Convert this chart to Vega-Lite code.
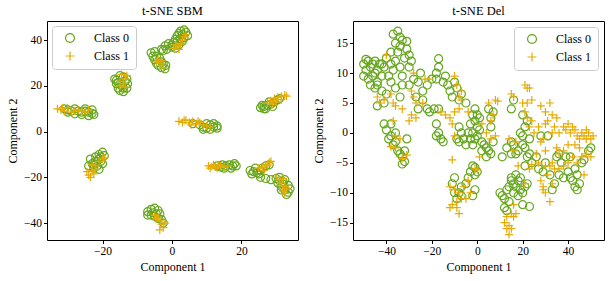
{
  "$schema": "https://vega.github.io/schema/vega-lite/v6.json",
  "background": "white",
  "padding": {"left": 6, "top": 4, "right": 4, "bottom": 5},
  "spacing": 13,
  "config": {
    "font": "Liberation Serif",
    "view": {"stroke": "black", "strokeWidth": 1},
    "style": {"guide-title": {"fontWeight": "normal"}, "group-title": {"fontWeight": "normal"}},
    "axis": {"domain": false, "grid": false, "tickColor": "black", "tickSize": 3.5, "labelFont": "Liberation Serif", "labelFontSize": 11.5, "labelColor": "black", "titleFont": "Liberation Serif", "titleFontSize": 12, "titleFontWeight": "normal", "titleColor": "black", "labelPadding": 2},
    "title": {"font": "Liberation Serif", "fontSize": 12.5, "fontWeight": "normal", "offset": 4},
    "legend": {"labelFont": "Liberation Serif", "labelFontSize": 12, "labelColor": "black", "strokeColor": "#cccccc", "fillColor": "white", "cornerRadius": 3, "padding": 6, "symbolStrokeWidth": 1.2, "symbolSize": 80, "symbolOpacity": 1, "rowPadding": 4, "labelOffset": 18, "symbolOffset": 6}
  },
  "datasets": {
    "sbm": [
      {"c":0,"x":-3,"y":36},{"c":0,"x":-2,"y":37.5},{"c":0,"x":-1,"y":38.5},{"c":0,"x":-2.5,"y":35.5},{"c":0,"x":0,"y":37},{"c":0,"x":0.5,"y":39},{"c":0,"x":1,"y":40.5},{"c":0,"x":1.5,"y":42},{"c":0,"x":2,"y":43},{"c":0,"x":2.5,"y":44},{"c":0,"x":3.5,"y":44.5},{"c":0,"x":4,"y":43.5},{"c":0,"x":4.5,"y":42},{"c":0,"x":3.5,"y":41},{"c":0,"x":3,"y":39.5},{"c":0,"x":2,"y":38},{"c":0,"x":1,"y":36.5},{"c":0,"x":2.5,"y":40.5},{"c":0,"x":-1.5,"y":36},{"c":0,"x":0,"y":38},{"c":0,"x":1.5,"y":39.5},{"c":0,"x":3,"y":42.5},
      {"c":1,"x":0.5,"y":36.5},{"c":1,"x":1.5,"y":37.5},{"c":1,"x":2.5,"y":38.5},{"c":1,"x":2,"y":36},{"c":1,"x":3,"y":40},{"c":1,"x":3.5,"y":41.5},{"c":1,"x":4,"y":42.5},{"c":1,"x":1,"y":38},
      {"c":0,"x":-6,"y":34.5},{"c":0,"x":-5.5,"y":33},{"c":0,"x":-5,"y":31.5},{"c":0,"x":-4.5,"y":30},{"c":0,"x":-4,"y":29},{"c":0,"x":-3,"y":28},{"c":0,"x":-2,"y":27.5},{"c":0,"x":-2.5,"y":29.5},{"c":0,"x":-3.5,"y":32},{"c":0,"x":-5,"y":35},{"c":0,"x":-1.8,"y":29},{"c":0,"x":-4.5,"y":33},{"c":0,"x":-3,"y":30.5},
      {"c":1,"x":-4,"y":31.5},{"c":1,"x":-3.5,"y":30},{"c":1,"x":-3,"y":29},{"c":1,"x":-2.5,"y":28},{"c":1,"x":-4.5,"y":30.5},{"c":1,"x":-3,"y":31},
      {"c":0,"x":-16.5,"y":23},{"c":0,"x":-16,"y":21},{"c":0,"x":-15.5,"y":19},{"c":0,"x":-15,"y":18},{"c":0,"x":-14,"y":17.5},{"c":0,"x":-13,"y":19},{"c":0,"x":-12.8,"y":21},{"c":0,"x":-13,"y":23},{"c":0,"x":-14,"y":24},{"c":0,"x":-15,"y":24.5},{"c":0,"x":-16,"y":22.5},{"c":0,"x":-14.5,"y":20},{"c":0,"x":-15.5,"y":21.5},{"c":0,"x":-14,"y":19},{"c":0,"x":-13.5,"y":22},
      {"c":1,"x":-15,"y":22},{"c":1,"x":-14,"y":21},{"c":1,"x":-13.5,"y":23},{"c":1,"x":-14.5,"y":25},{"c":1,"x":-13.5,"y":19.5},{"c":1,"x":-15,"y":20},{"c":1,"x":-13,"y":24.5},
      {"c":0,"x":-31,"y":10},{"c":0,"x":-30,"y":9.5},{"c":0,"x":-29,"y":9},{"c":0,"x":-28,"y":10},{"c":0,"x":-27,"y":9},{"c":0,"x":-26,"y":8.5},{"c":0,"x":-25,"y":9},{"c":0,"x":-24,"y":8.5},{"c":0,"x":-23,"y":8},{"c":0,"x":-22.5,"y":7.5},{"c":0,"x":-24,"y":7},{"c":0,"x":-26,"y":7.5},{"c":0,"x":-28,"y":7.8},{"c":0,"x":-30,"y":8.5},{"c":0,"x":-23,"y":9.5},{"c":0,"x":-25,"y":10},
      {"c":1,"x":-33,"y":10},{"c":1,"x":-32,"y":9.5},{"c":1,"x":-31,"y":9},{"c":1,"x":-30,"y":10.5},{"c":1,"x":-29,"y":8.5},{"c":1,"x":-28,"y":9},{"c":1,"x":-27,"y":9.5},{"c":1,"x":-26,"y":9},{"c":1,"x":-25,"y":8.5},{"c":1,"x":-24,"y":9.5},{"c":1,"x":-31.5,"y":10.5},
      {"c":0,"x":-20,"y":-9},{"c":0,"x":-19.5,"y":-10.5},{"c":0,"x":-20.5,"y":-11},{"c":0,"x":-21,"y":-12},{"c":0,"x":-22,"y":-13},{"c":0,"x":-23,"y":-14},{"c":0,"x":-23.5,"y":-12},{"c":0,"x":-22,"y":-11},{"c":0,"x":-21,"y":-10},{"c":0,"x":-24,"y":-15},{"c":0,"x":-22.5,"y":-16},{"c":0,"x":-21.5,"y":-15},{"c":0,"x":-20,"y":-14},{"c":0,"x":-20.5,"y":-13},{"c":0,"x":-22.5,"y":-14.5},{"c":0,"x":-21,"y":-16.5},
      {"c":1,"x":-24,"y":-19},{"c":1,"x":-23.5,"y":-20},{"c":1,"x":-23,"y":-17},{"c":1,"x":-22.5,"y":-18.5},{"c":1,"x":-22,"y":-15},{"c":1,"x":-21,"y":-13},{"c":1,"x":-20,"y":-12},{"c":1,"x":-19.5,"y":-11.5},{"c":1,"x":-24.5,"y":-17.5},{"c":1,"x":-23,"y":-14.5},{"c":1,"x":-22,"y":-16.5},
      {"c":0,"x":-7,"y":-35},{"c":0,"x":-6,"y":-34},{"c":0,"x":-5,"y":-33.5},{"c":0,"x":-4,"y":-34.5},{"c":0,"x":-3.5,"y":-36},{"c":0,"x":-4,"y":-38},{"c":0,"x":-5,"y":-37},{"c":0,"x":-6,"y":-36.5},{"c":0,"x":-3,"y":-38.5},{"c":0,"x":-5.5,"y":-35.5},{"c":0,"x":-7,"y":-36.5},{"c":0,"x":-4.5,"y":-36},{"c":0,"x":-2.5,"y":-40},
      {"c":1,"x":-5,"y":-36.5},{"c":1,"x":-4,"y":-37.5},{"c":1,"x":-3.5,"y":-39},{"c":1,"x":-3,"y":-40.5},{"c":1,"x":-2.5,"y":-42},{"c":1,"x":-3.5,"y":-43},{"c":1,"x":-4.5,"y":-38},{"c":1,"x":-2,"y":-40},
      {"c":0,"x":6,"y":3.5},{"c":0,"x":8,"y":3},{"c":0,"x":9,"y":2},{"c":0,"x":10,"y":1.5},{"c":0,"x":11,"y":1},{"c":0,"x":12,"y":2},{"c":0,"x":13,"y":2.5},{"c":0,"x":12,"y":3.5},{"c":0,"x":10,"y":3.5},{"c":0,"x":11,"y":3},{"c":0,"x":13,"y":1.5},{"c":0,"x":9,"y":1},
      {"c":1,"x":2,"y":4.5},{"c":1,"x":3,"y":4},{"c":1,"x":4,"y":5},{"c":1,"x":5,"y":4},{"c":1,"x":6,"y":4.5},{"c":1,"x":7,"y":3.5},{"c":1,"x":8,"y":4},{"c":1,"x":9,"y":3},{"c":1,"x":10,"y":2.5},{"c":1,"x":3.5,"y":5},{"c":1,"x":5.5,"y":3},{"c":1,"x":7.5,"y":4.5},{"c":1,"x":11,"y":2},
      {"c":0,"x":13,"y":-15},{"c":0,"x":14.5,"y":-14.5},{"c":0,"x":15.5,"y":-15},{"c":0,"x":16.5,"y":-14.5},{"c":0,"x":17.5,"y":-15},{"c":0,"x":18.5,"y":-15},{"c":0,"x":17,"y":-16},{"c":0,"x":15,"y":-16},{"c":0,"x":14,"y":-15.5},{"c":0,"x":18,"y":-14},
      {"c":1,"x":10.5,"y":-15},{"c":1,"x":11,"y":-16},{"c":1,"x":12,"y":-14.5},{"c":1,"x":12.5,"y":-15.5},{"c":1,"x":13,"y":-16},{"c":1,"x":13.5,"y":-14.5},{"c":1,"x":14,"y":-15},{"c":1,"x":15,"y":-15.5},{"c":1,"x":16,"y":-15},{"c":1,"x":11.5,"y":-15.2},
      {"c":0,"x":22.5,"y":-17},{"c":0,"x":23.5,"y":-17.5},{"c":0,"x":24.5,"y":-18},{"c":0,"x":25.5,"y":-17},{"c":0,"x":24,"y":-16},{"c":0,"x":26,"y":-16},{"c":0,"x":27,"y":-15},{"c":0,"x":28,"y":-14.5},{"c":0,"x":23,"y":-18.5},{"c":0,"x":25,"y":-18.5},
      {"c":1,"x":25,"y":-16},{"c":1,"x":26,"y":-15.5},{"c":1,"x":27,"y":-14.5},{"c":1,"x":28,"y":-13.5},{"c":1,"x":28.5,"y":-13},{"c":1,"x":26.5,"y":-17},{"c":1,"x":27.5,"y":-15},
      {"c":0,"x":25.5,"y":-20},{"c":0,"x":27,"y":-20.5},{"c":0,"x":28.5,"y":-21},{"c":0,"x":30,"y":-20.5},{"c":0,"x":31,"y":-21.5},{"c":0,"x":32,"y":-22},{"c":0,"x":31.5,"y":-24},{"c":0,"x":32.5,"y":-25.5},{"c":0,"x":33.5,"y":-26.5},{"c":0,"x":33,"y":-27.5},{"c":0,"x":32,"y":-23},{"c":0,"x":33.5,"y":-23.5},{"c":0,"x":30.5,"y":-22.5},{"c":0,"x":31,"y":-20},{"c":0,"x":32.5,"y":-21},{"c":0,"x":34,"y":-25},{"c":0,"x":31.5,"y":-25.5},
      {"c":1,"x":30,"y":-20},{"c":1,"x":31,"y":-21},{"c":1,"x":32,"y":-20.5},{"c":1,"x":31.5,"y":-22.5},{"c":1,"x":32.5,"y":-24},{"c":1,"x":33,"y":-25},{"c":1,"x":32,"y":-26},{"c":1,"x":32.5,"y":-27},{"c":1,"x":31,"y":-23.5},
      {"c":0,"x":25.5,"y":10.5},{"c":0,"x":26.5,"y":11},{"c":0,"x":27.5,"y":11.5},{"c":0,"x":28.5,"y":12},{"c":0,"x":29.5,"y":13},{"c":0,"x":30.5,"y":14},{"c":0,"x":27,"y":10},{"c":0,"x":29,"y":11},{"c":0,"x":26,"y":11.5},{"c":0,"x":28,"y":13},{"c":0,"x":31,"y":14.5},{"c":0,"x":26.5,"y":10},
      {"c":1,"x":27.5,"y":12.5},{"c":1,"x":28.5,"y":13.5},{"c":1,"x":29.5,"y":14.5},{"c":1,"x":30.5,"y":15},{"c":1,"x":31.5,"y":15.5},{"c":1,"x":32.5,"y":16},{"c":1,"x":33,"y":15.5},{"c":1,"x":30,"y":13},{"c":1,"x":31.5,"y":14},{"c":1,"x":29,"y":12}
    ],
    "del": [
      {"c":0,"x":-37,"y":16.5},{"c":0,"x":-35,"y":17},{"c":0,"x":-34,"y":16},{"c":0,"x":-33,"y":15.5},{"c":0,"x":-31,"y":15.3},{"c":0,"x":-36,"y":15},{"c":0,"x":-34,"y":14.5},
      {"c":0,"x":-50,"y":11.5},{"c":0,"x":-49,"y":10.5},{"c":0,"x":-48,"y":12},{"c":0,"x":-47,"y":11},{"c":0,"x":-46,"y":9.5},{"c":0,"x":-45,"y":12},{"c":0,"x":-44,"y":10.5},{"c":0,"x":-43,"y":11.5},{"c":0,"x":-50,"y":9.5},{"c":0,"x":-48,"y":9},{"c":0,"x":-46,"y":11.5},{"c":0,"x":-44,"y":8.5},{"c":0,"x":-42,"y":9.5},{"c":0,"x":-42,"y":11.5},{"c":0,"x":-47,"y":8},{"c":0,"x":-49,"y":12.3},{"c":0,"x":-45,"y":10},
      {"c":0,"x":-40,"y":12.5},{"c":0,"x":-38,"y":13.5},{"c":0,"x":-36,"y":12},{"c":0,"x":-34,"y":11},{"c":0,"x":-32,"y":12.5},{"c":0,"x":-30,"y":13},{"c":0,"x":-30,"y":11},{"c":0,"x":-33,"y":9.5},{"c":0,"x":-37,"y":10.5},{"c":0,"x":-39,"y":9.5},{"c":0,"x":-35,"y":13.5},{"c":0,"x":-31,"y":14},{"c":0,"x":-29,"y":12},{"c":0,"x":-38,"y":11.5},{"c":0,"x":-41,"y":11},
      {"c":0,"x":-44,"y":8},{"c":0,"x":-42,"y":7},{"c":0,"x":-40,"y":6.5},{"c":0,"x":-38,"y":8.5},{"c":0,"x":-36,"y":7.5},{"c":0,"x":-34,"y":6},{"c":0,"x":-33,"y":8},{"c":0,"x":-41,"y":5},{"c":0,"x":-44,"y":4.5},{"c":0,"x":-45,"y":7.5},
      {"c":0,"x":-41,"y":1.5},{"c":0,"x":-40,"y":0.5},{"c":0,"x":-39,"y":-1},{"c":0,"x":-38,"y":-0.5},{"c":0,"x":-37,"y":-2},{"c":0,"x":-36,"y":-1.5},{"c":0,"x":-35,"y":-3},{"c":0,"x":-34,"y":-3.5},{"c":0,"x":-33,"y":-4},{"c":0,"x":-32,"y":-4.8},{"c":0,"x":-33,"y":-5.2},{"c":0,"x":-31,"y":-1},{"c":0,"x":-32,"y":-3},{"c":0,"x":-36,"y":0},{"c":0,"x":-38,"y":1.5},
      {"c":0,"x":-30,"y":8},{"c":0,"x":-28,"y":9},{"c":0,"x":-26,"y":8.5},{"c":0,"x":-25,"y":10},{"c":0,"x":-24,"y":7},{"c":0,"x":-22,"y":8},{"c":0,"x":-20,"y":9},{"c":0,"x":-18,"y":10},{"c":0,"x":-17,"y":11},{"c":0,"x":-17,"y":12.4},{"c":0,"x":-18,"y":9},{"c":0,"x":-15,"y":8.5},{"c":0,"x":-13,"y":8},{"c":0,"x":-12,"y":7},{"c":0,"x":-11,"y":6},{"c":0,"x":-8,"y":5.5},{"c":0,"x":-7,"y":6.5},{"c":0,"x":-5,"y":5},{"c":0,"x":-9,"y":7.5},{"c":0,"x":-10,"y":8.5},{"c":0,"x":-14,"y":9.5},{"c":0,"x":-27,"y":6},{"c":0,"x":-24,"y":5.5},{"c":0,"x":-26,"y":4},{"c":0,"x":-22,"y":4},{"c":0,"x":-21,"y":3.5},{"c":0,"x":-19,"y":4},{"c":0,"x":-17,"y":4},{"c":0,"x":-18,"y":1.5},{"c":0,"x":-17,"y":0},{"c":0,"x":-16,"y":-1},{"c":0,"x":-18,"y":-0.5},{"c":0,"x":-15,"y":-1.5},{"c":0,"x":-9,"y":-1},{"c":0,"x":-8,"y":-1.5},{"c":0,"x":-6,"y":-1},{"c":0,"x":-7,"y":0},{"c":0,"x":-5,"y":-2},{"c":0,"x":-8,"y":1},
      {"c":0,"x":-2,"y":3},{"c":0,"x":-1,"y":2},{"c":0,"x":0,"y":1},{"c":0,"x":-3,"y":1.5},{"c":0,"x":-2,"y":0},{"c":0,"x":-1,"y":-1},{"c":0,"x":0,"y":-0.5},{"c":0,"x":1,"y":0.5},{"c":0,"x":-3,"y":-1},{"c":0,"x":-4,"y":0},{"c":0,"x":-2,"y":-2},{"c":0,"x":1,"y":2.5},{"c":0,"x":0,"y":3},{"c":0,"x":-1,"y":4},{"c":0,"x":2,"y":-1.5},{"c":0,"x":3,"y":-2},{"c":0,"x":4,"y":-2.5},{"c":0,"x":5,"y":-3},{"c":0,"x":6,"y":-3.5},{"c":0,"x":2,"y":-3},{"c":0,"x":4,"y":-4},{"c":0,"x":7,"y":-1.5},{"c":0,"x":6,"y":1},{"c":0,"x":7,"y":3.5},{"c":0,"x":5,"y":4},{"c":0,"x":6,"y":2.5},
      {"c":0,"x":-2,"y":-5.5},{"c":0,"x":-1,"y":-5.8},{"c":0,"x":0,"y":-6.5},{"c":0,"x":-3,"y":-6.5},{"c":0,"x":-4,"y":-7.5},{"c":0,"x":-1,"y":-7},{"c":0,"x":-5,"y":-8.5},{"c":0,"x":-7,"y":-9},{"c":0,"x":-8,"y":-10},{"c":0,"x":-10,"y":-7.5},{"c":0,"x":-11,"y":-8.5},{"c":0,"x":-10,"y":-10},{"c":0,"x":-9,"y":-11},{"c":0,"x":-7,"y":-10.5},{"c":0,"x":-1,"y":-9.5},{"c":0,"x":-2,"y":-10.5},
      {"c":0,"x":10,"y":-10},{"c":0,"x":11,"y":-10.5},{"c":0,"x":12,"y":-11},{"c":0,"x":12,"y":-12.5},{"c":0,"x":13,"y":-9.5},{"c":0,"x":14,"y":-9},{"c":0,"x":15,"y":-8},{"c":0,"x":16,"y":-8.5},{"c":0,"x":17,"y":-9},{"c":0,"x":18,"y":-8},{"c":0,"x":19,"y":-9.5},{"c":0,"x":20,"y":-10},{"c":0,"x":16,"y":-10},{"c":0,"x":18,"y":-10.5},{"c":0,"x":21,"y":-9},{"c":0,"x":22,"y":-8.5},{"c":0,"x":15,"y":-7.5},{"c":0,"x":17,"y":-7},{"c":0,"x":20,"y":-12},{"c":0,"x":23,"y":-12.3},{"c":0,"x":19,"y":-7.5},{"c":0,"x":14,"y":-11.5},{"c":0,"x":13,"y":-13},
      {"c":0,"x":15,"y":-1.5},{"c":0,"x":16,"y":-2},{"c":0,"x":17,"y":-3.5},{"c":0,"x":20,"y":-2},{"c":0,"x":21,"y":-2.5},{"c":0,"x":22,"y":-4},{"c":0,"x":23,"y":-3.5},{"c":0,"x":24,"y":-5},{"c":0,"x":21,"y":-5.5},{"c":0,"x":19,"y":0},{"c":0,"x":20,"y":-0.5},{"c":0,"x":15,"y":4},{"c":0,"x":16,"y":5.5},{"c":0,"x":20,"y":3},{"c":0,"x":22,"y":2},{"c":0,"x":21,"y":1},{"c":0,"x":23,"y":-1},{"c":0,"x":18,"y":-3},{"c":0,"x":15,"y":-3.5},{"c":0,"x":13,"y":-2.5},{"c":0,"x":11,"y":-4},
      {"c":0,"x":28,"y":-0.5},{"c":0,"x":31,"y":-0.5},{"c":0,"x":26,"y":-4},{"c":0,"x":27,"y":-6},{"c":0,"x":29,"y":-6.5},{"c":0,"x":30,"y":-5},{"c":0,"x":32,"y":-7},{"c":0,"x":34,"y":-8.5},{"c":0,"x":33,"y":-9.5},{"c":0,"x":36,"y":-7},{"c":0,"x":37,"y":-5},{"c":0,"x":38,"y":-7.5},{"c":0,"x":40,"y":-6.5},{"c":0,"x":41,"y":-7.5},{"c":0,"x":42,"y":-8},{"c":0,"x":43,"y":-9},{"c":0,"x":44,"y":-9.5},{"c":0,"x":45,"y":-8.5},{"c":0,"x":44,"y":-7},{"c":0,"x":43,"y":-6},{"c":0,"x":39,"y":-4},{"c":0,"x":41,"y":-4},{"c":0,"x":46,"y":-5},{"c":0,"x":47,"y":-4.5},{"c":0,"x":49,"y":-3},{"c":0,"x":50,"y":-2.5},{"c":0,"x":35,"y":-4},{"c":0,"x":36,"y":-3.5},
      {"c":1,"x":-40,"y":13},{"c":1,"x":-44,"y":6},{"c":1,"x":-43,"y":5},{"c":1,"x":-41,"y":5.5},{"c":1,"x":-38,"y":6.5},{"c":1,"x":-37,"y":5},{"c":1,"x":-36,"y":4.5},{"c":1,"x":-33,"y":4},{"c":1,"x":-29,"y":7},{"c":1,"x":-28,"y":6},{"c":1,"x":-27,"y":5},{"c":1,"x":-28,"y":10},{"c":1,"x":-23,"y":9},{"c":1,"x":-21,"y":9},{"c":1,"x":-29,"y":3},{"c":1,"x":-30,"y":2},{"c":1,"x":-27,"y":2.5},{"c":1,"x":-24,"y":5},{"c":1,"x":-16,"y":3.5},{"c":1,"x":-14,"y":3},{"c":1,"x":-12,"y":2.5},{"c":1,"x":-11,"y":1.5},{"c":1,"x":-10,"y":3.5},{"c":1,"x":-9,"y":8},{"c":1,"x":-8,"y":6},{"c":1,"x":-8,"y":4},{"c":1,"x":-7,"y":5.5},{"c":1,"x":-10,"y":-0.5},{"c":1,"x":-4,"y":3.5},{"c":1,"x":-10,"y":9.5},{"c":1,"x":-7,"y":7},
      {"c":1,"x":-37,"y":2},{"c":1,"x":-36,"y":-2.5},{"c":1,"x":-38,"y":-2.3},{"c":1,"x":-34,"y":-1},{"c":1,"x":-31,"y":-3.7},{"c":1,"x":-36,"y":-0.5},{"c":1,"x":-33,"y":-4.3},
      {"c":1,"x":2,"y":1.5},{"c":1,"x":4,"y":0},{"c":1,"x":6,"y":2},{"c":1,"x":7,"y":3},{"c":1,"x":8,"y":5.5},{"c":1,"x":9,"y":5.3},{"c":1,"x":5,"y":5},{"c":1,"x":8,"y":-0.5},{"c":1,"x":6,"y":-1},{"c":1,"x":1,"y":-4},
      {"c":1,"x":-11,"y":-4.5},{"c":1,"x":-12,"y":-9},{"c":1,"x":-10,"y":-9.5},{"c":1,"x":-8,"y":-10},{"c":1,"x":-6,"y":-9},{"c":1,"x":-4,"y":-8},{"c":1,"x":-3,"y":-10},{"c":1,"x":-1,"y":-6},{"c":1,"x":0,"y":-6.2},{"c":1,"x":-11,"y":-12},{"c":1,"x":-12,"y":-12.5},{"c":1,"x":-9,"y":-12.5},{"c":1,"x":-8,"y":-13.5},{"c":1,"x":-7,"y":-11},{"c":1,"x":-9,"y":-11.5},{"c":1,"x":-5,"y":-11},
      {"c":1,"x":13,"y":-14},{"c":1,"x":14,"y":-15.5},{"c":1,"x":13,"y":-16},{"c":1,"x":15,"y":-16},{"c":1,"x":16,"y":-14},{"c":1,"x":14,"y":-17},{"c":1,"x":12,"y":-15},{"c":1,"x":16,"y":-12},{"c":1,"x":15,"y":-13.5},{"c":1,"x":17,"y":-13.5},
      {"c":1,"x":15,"y":6.5},{"c":1,"x":16,"y":6},{"c":1,"x":21,"y":8},{"c":1,"x":22,"y":7.5},{"c":1,"x":23,"y":7.5},{"c":1,"x":22,"y":5},{"c":1,"x":24,"y":5.5},{"c":1,"x":20,"y":5},{"c":1,"x":21,"y":3.5},{"c":1,"x":22,"y":2.5},{"c":1,"x":24,"y":2},{"c":1,"x":23,"y":1},{"c":1,"x":25,"y":0},{"c":1,"x":17,"y":-1.5},{"c":1,"x":18,"y":-5.5},{"c":1,"x":16,"y":-3},{"c":1,"x":14,"y":-1},{"c":1,"x":27,"y":-5},{"c":1,"x":26,"y":-3.5},{"c":1,"x":24,"y":-5.3},{"c":1,"x":23,"y":-6},{"c":1,"x":28,"y":-8},{"c":1,"x":29,"y":-9.5},{"c":1,"x":30,"y":-10},{"c":1,"x":29,"y":-9},{"c":1,"x":32,"y":-11.5},{"c":1,"x":31,"y":-7},{"c":1,"x":33,"y":-8.5},{"c":1,"x":21,"y":-8.5},
      {"c":1,"x":28,"y":4.5},{"c":1,"x":30,"y":3.5},{"c":1,"x":32,"y":5},{"c":1,"x":33,"y":3},{"c":1,"x":31,"y":2},{"c":1,"x":30,"y":1.5},{"c":1,"x":33,"y":0},{"c":1,"x":34,"y":1},{"c":1,"x":35,"y":2.5},{"c":1,"x":36,"y":0},{"c":1,"x":38,"y":1},{"c":1,"x":39,"y":0.5},{"c":1,"x":40,"y":1.5},{"c":1,"x":41,"y":0},{"c":1,"x":42,"y":1},{"c":1,"x":43,"y":0.5},{"c":1,"x":44,"y":-0.5},{"c":1,"x":45,"y":-1},{"c":1,"x":46,"y":0},{"c":1,"x":47,"y":-0.5},{"c":1,"x":48,"y":-1},{"c":1,"x":49,"y":0},{"c":1,"x":50,"y":-1},{"c":1,"x":51,"y":-0.5},{"c":1,"x":48,"y":0.5},{"c":1,"x":43,"y":-2},{"c":1,"x":45,"y":-2.5},{"c":1,"x":40,"y":-2},{"c":1,"x":38,"y":-3},{"c":1,"x":36,"y":-3.5},{"c":1,"x":35,"y":-2.5},{"c":1,"x":33,"y":-5},{"c":1,"x":34,"y":-6},{"c":1,"x":32,"y":-5.5},{"c":1,"x":36,"y":-6},{"c":1,"x":38,"y":-5.5},{"c":1,"x":40,"y":-5},{"c":1,"x":42,"y":-4},{"c":1,"x":44,"y":-5},{"c":1,"x":46,"y":-4},{"c":1,"x":48,"y":-3.5},{"c":1,"x":50,"y":-4},{"c":1,"x":47,"y":-7},{"c":1,"x":29,"y":-1},{"c":1,"x":28,"y":-1.5},{"c":1,"x":30,"y":-3},{"c":1,"x":27,"y":1},{"c":1,"x":30,"y":-5.5}
    ]
  },
  "hconcat": [
    {
      "width": 251, "height": 219,
      "title": {"text": "t-SNE SBM", "fontWeight": "normal"},
      "data": {"name": "sbm"},
      "mark": {"type": "point", "filled": false, "strokeWidth": 1.2, "size": 64, "opacity": 1, "clip": true},
      "encoding": {
        "x": {"field": "x", "type": "quantitative", "scale": {"domain": [-36, 36.3], "nice": false, "zero": false}, "axis": {"title": "Component 1", "titleFontWeight": "normal", "values": [-20, 0, 20]}},
        "y": {"field": "y", "type": "quantitative", "scale": {"domain": [-47.4, 48.4], "nice": false, "zero": false}, "axis": {"title": "Component 2", "titleFontWeight": "normal", "values": [-40, -20, 0, 20, 40]}},
        "color": {"field": "c", "type": "nominal", "scale": {"domain": [0, 1], "range": ["#66a61e", "#e6ab02"]}, "legend": {"title": null, "orient": "top-left", "offset": 5, "labelExpr": "'Class ' + datum.label"}},
        "shape": {"field": "c", "type": "nominal", "scale": {"domain": [0, 1], "range": ["circle", "M-1,0L1,0M0,-1L0,1"]}, "legend": {"title": null, "orient": "top-left", "offset": 5, "labelExpr": "'Class ' + datum.label"}},
        "order": {"field": "c", "type": "quantitative"}
      }
    },
    {
      "width": 251, "height": 219,
      "title": {"text": "t-SNE Del", "fontWeight": "normal"},
      "data": {"name": "del"},
      "mark": {"type": "point", "filled": false, "strokeWidth": 1.2, "size": 64, "opacity": 1, "clip": true},
      "encoding": {
        "x": {"field": "x", "type": "quantitative", "scale": {"domain": [-54.7, 55.8], "nice": false, "zero": false}, "axis": {"title": "Component 1", "titleFontWeight": "normal", "values": [-40, -20, 0, 20, 40]}},
        "y": {"field": "y", "type": "quantitative", "scale": {"domain": [-17.9, 18.7], "nice": false, "zero": false}, "axis": {"title": "Component 2", "titleFontWeight": "normal", "values": [-15, -10, -5, 0, 5, 10, 15]}},
        "color": {"field": "c", "type": "nominal", "scale": {"domain": [0, 1], "range": ["#66a61e", "#e6ab02"]}, "legend": {"title": null, "orient": "top-right", "offset": 6, "labelExpr": "'Class ' + datum.label"}},
        "shape": {"field": "c", "type": "nominal", "scale": {"domain": [0, 1], "range": ["circle", "M-1,0L1,0M0,-1L0,1"]}, "legend": {"title": null, "orient": "top-right", "offset": 6, "labelExpr": "'Class ' + datum.label"}},
        "order": {"field": "c", "type": "quantitative"}
      }
    }
  ],
  "resolve": {"scale": {"x": "independent", "y": "independent", "color": "independent", "shape": "independent"}, "legend": {"color": "independent", "shape": "independent"}}
}
